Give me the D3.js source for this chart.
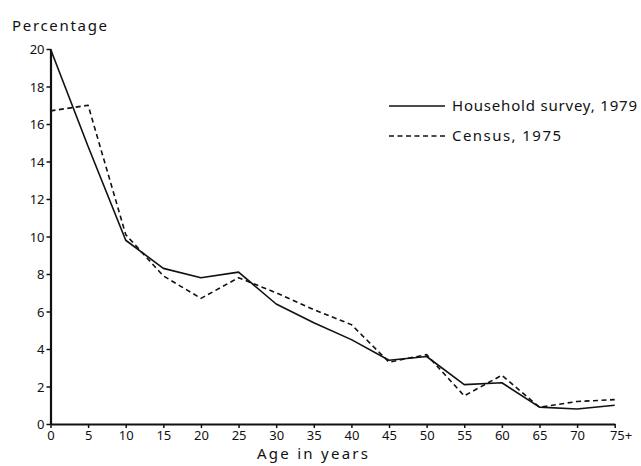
<!DOCTYPE html>
<html>
<head>
<meta charset="utf-8">
<script src="https://cdn.jsdelivr.net/npm/d3@7"></script>
<style>
  html, body { margin: 0; padding: 0; background: #fff; }
  svg { display: block; }
  text { font-family: "Noto Sans", "DejaVu Sans", sans-serif; fill: #111; }
</style>
</head>
<body>
<svg id="chart" width="641" height="466"></svg>
<script>
// Age groups (start of each five-year band; last band is 75+)
const ages = [0, 5, 10, 15, 20, 25, 30, 35, 40, 45, 50, 55, 60, 65, 70, 75];
const ageLabels = ["0", "5", "10", "15", "20", "25", "30", "35", "40", "45", "50", "55", "60", "65", "70", "75+"];

// Percentage of population in each age group
const household1979 = [20.0, 14.8, 9.8, 8.3, 7.8, 8.1, 6.4, 5.4, 4.5, 3.4, 3.6, 2.1, 2.2, 0.9, 0.8, 1.0];
const census1975    = [16.7, 17.0, 10.1, 7.9, 6.7, 7.8, 7.0, 6.1, 5.3, 3.3, 3.7, 1.5, 2.6, 0.9, 1.2, 1.3];

const yTicks = [0, 2, 4, 6, 8, 10, 12, 14, 16, 18, 20];

const series = [
  { name: "Household survey, 1979", values: household1979, dash: null },
  { name: "Census, 1975", values: census1975, dash: "5,3.5" }
];

const svg = d3.select("#chart");

const x = d3.scaleLinear().domain([0, 75]).range([50.5, 614.7]);
const y = d3.scaleLinear().domain([0, 20]).range([424, 49]);

// Y axis
const yAxis = svg.append("g")
  .attr("transform", `translate(${x(0)},0)`)
  .call(d3.axisLeft(y).tickValues(yTicks).tickSize(4).tickPadding(2).tickSizeOuter(0));
yAxis.select(".domain").attr("stroke", "#111").attr("stroke-width", 2.2);
yAxis.selectAll(".tick line").attr("stroke", "#111").attr("stroke-width", 1.5);
yAxis.selectAll(".tick text").attr("font-size", 13).attr("fill", "#111").attr("dy", "0.35em");

// X axis
const xAxis = svg.append("g")
  .attr("transform", `translate(0,${y(0)})`)
  .call(d3.axisBottom(x).tickValues(ages)
    .tickFormat((d, i) => ageLabels[i]).tickSize(4).tickPadding(3).tickSizeOuter(0));
xAxis.select(".domain").attr("stroke", "#111").attr("stroke-width", 2);
xAxis.selectAll(".tick line").attr("stroke", "#111").attr("stroke-width", 1.5);
xAxis.selectAll(".tick text").attr("font-size", 13).attr("fill", "#111");
xAxis.selectAll(".tick").filter((d, i) => i === ages.length - 1)
  .select("text").attr("dx", "0.45em");

// Series lines
const line = d3.line()
  .x((d, i) => x(ages[i]))
  .y(d => y(d));

svg.selectAll("path.series")
  .data(series)
  .join("path")
  .attr("class", "series")
  .attr("d", d => line(d.values))
  .attr("fill", "none")
  .attr("stroke", "#111")
  .attr("stroke-width", 1.6)
  .attr("stroke-linejoin", "round")
  .attr("stroke-dasharray", d => d.dash);

// Legend
const legend = svg.append("g");
const legendRows = legend.selectAll("g")
  .data(series)
  .join("g")
  .attr("transform", (d, i) => `translate(389,${106 + i * 30})`);
legendRows.append("line")
  .attr("x1", 0).attr("x2", 56).attr("y1", 0).attr("y2", 0)
  .attr("stroke", "#111").attr("stroke-width", 1.4)
  .attr("stroke-dasharray", d => d.dash);
legendRows.append("text")
  .attr("x", 63).attr("y", 5)
  .attr("font-size", 15)
  .attr("textLength", (d, i) => i === 0 ? 185 : 109)
  .attr("lengthAdjust", "spacing")
  .text(d => d.name);

// Axis titles
svg.append("text")
  .attr("x", 12).attr("y", 31)
  .attr("font-size", 15)
  .attr("textLength", 95).attr("lengthAdjust", "spacing")
  .text("Percentage");

svg.append("text")
  .attr("x", 257).attr("y", 459)
  .attr("font-size", 15)
  .attr("textLength", 111).attr("lengthAdjust", "spacing")
  .text("Age in years");
</script>
</body>
</html>
